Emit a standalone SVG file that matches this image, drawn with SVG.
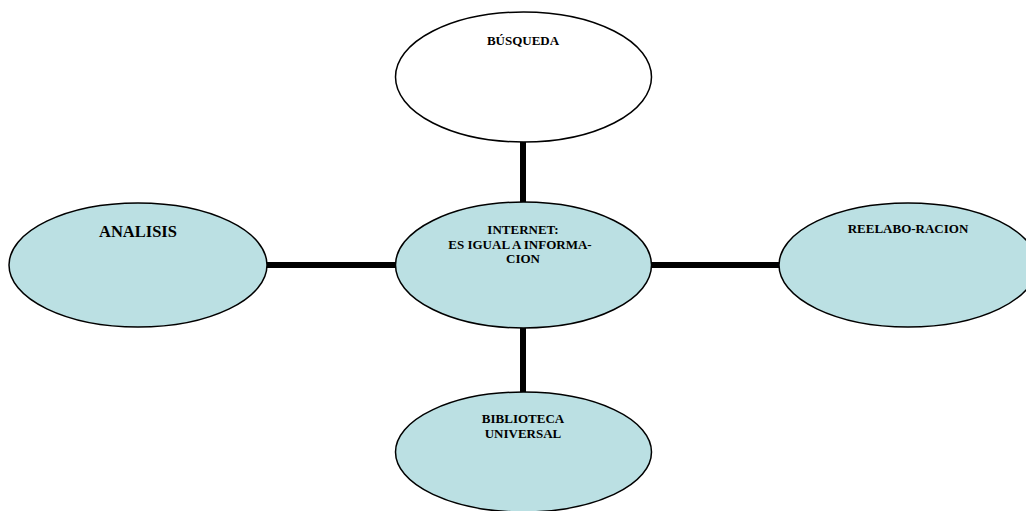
<svg xmlns="http://www.w3.org/2000/svg" width="1026" height="511" viewBox="0 0 1026 511">
<style>
.node{fill:#BBE0E3;stroke:#000;stroke-width:1.5}
.white{fill:#fff;stroke:#000;stroke-width:1.5}
.conn{stroke:#000;stroke-width:6;fill:none}
text{font-family:"Liberation Serif","Times New Roman",serif;font-weight:bold;fill:#000;text-anchor:middle}
.s{font-size:13px}
.l{font-size:16.5px}
</style>
<rect width="1026" height="511" fill="#fff"/>
<g id="connectors">
<line class="conn" x1="523" y1="142" x2="523" y2="203"/>
<line class="conn" x1="523" y1="327" x2="523" y2="393"/>
<line class="conn" x1="267" y1="265" x2="396" y2="265"/>
<line class="conn" x1="651" y1="265" x2="780" y2="265"/>
</g>
<g id="busqueda">
<ellipse class="white" cx="523.5" cy="77" rx="128" ry="65"/>
<text class="s" x="523" y="45">BÚSQUEDA</text>
</g>
<g id="internet">
<ellipse class="node" cx="523.5" cy="265" rx="128" ry="63"/>
<text class="s" x="523" y="234">INTERNET:</text>
<text class="s" x="520" y="248.5">ES IGUAL A INFORMA-</text>
<text class="s" x="523" y="263">CION</text>
</g>
<g id="analisis">
<ellipse class="node" cx="138" cy="265" rx="129" ry="62"/>
<text class="l" x="138" y="237">ANALISIS</text>
</g>
<g id="reelaboracion">
<ellipse class="node" cx="908" cy="265" rx="129" ry="62"/>
<text class="s" x="908" y="233">REELABO-RACION</text>
</g>
<g id="biblioteca">
<ellipse class="node" cx="523.5" cy="452" rx="128" ry="60"/>
<text class="s" x="523" y="423">BIBLIOTECA</text>
<text class="s" x="523" y="438">UNIVERSAL</text>
</g>
</svg>
